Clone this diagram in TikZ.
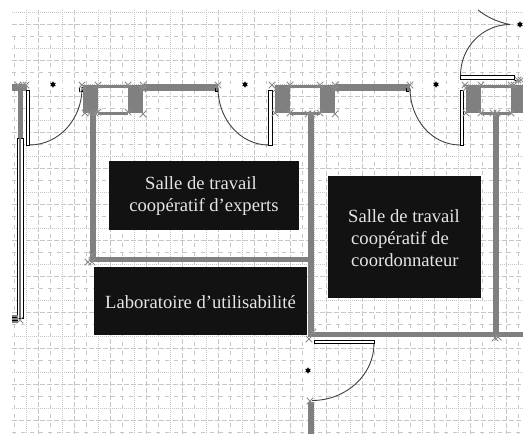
\documentclass[tikz,border=0pt]{standalone}
\usepackage{fontspec}
\setmainfont{Liberation Serif}
\usetikzlibrary{shapes.misc,shapes.geometric}

\tikzset{
  wall/.style={fill=black!50,draw=none},
  doorleaf/.style={draw=black,fill=white,line width=0.9pt},
  doorarc/.style={draw=black!75,line width=0.9pt},
  xmark/.style={cross out,draw=black!45,line width=1pt,minimum size=6.5pt,inner sep=0pt,outer sep=0pt},
  pivot/.style={star,star points=6,star point ratio=1.8,fill=black,minimum size=6.5pt,inner sep=0pt},
  room/.style={fill=black!93,draw=none},
  roomtext/.style={text=white!90!black,font=\fontsize{18.6}{22.2}\selectfont,inner sep=0pt}
}

\begin{document}
\begin{tikzpicture}[x=1pt,y=-1pt]
\useasboundingbox (0,0) rectangle (523,434);
\fill[white] (0,0) rectangle (523,434);

% Grid lines
\foreach \y [count=\i] in {12.5,24.5,...,433}{
  \pgfmathtruncatemacro{\k}{mod(\i,3)}
  \ifnum\k=1 \draw[black!22,line width=1pt,dash pattern=on 1pt off 1pt] (12,\y) -- (523,\y);\fi
  \ifnum\k=2 \draw[black!22,line width=1pt,dash pattern=on 5pt off 2pt] (12,\y) -- (523,\y);\fi
  \ifnum\k=0 \draw[black!22,line width=1pt,dash pattern=on 4pt off 5pt] (12,\y) -- (523,\y);\fi
}
\foreach \x [count=\i] in {14.5,26.5,...,523}{
  \pgfmathtruncatemacro{\k}{mod(\i,3)}
  \ifnum\k=1 \draw[black!22,line width=1pt,dash pattern=on 4pt off 5pt] (\x,36) -- (\x,434);\fi
  \ifnum\k=2 \draw[black!22,line width=1pt,dash pattern=on 1pt off 1pt] (\x,10) -- (\x,434);\fi
  \ifnum\k=0 \draw[black!22,line width=1pt,dash pattern=on 5pt off 2pt] (\x,10) -- (\x,434);\fi
}

% Top wall
\fill[wall] (12,84) rectangle (27,90.5);
\fill[wall] (17.5,90) rectangle (23,138);
\fill[wall] (143,84) rectangle (218,90.5);
\fill[wall] (335,84) rectangle (410,90.5);

% Pillars and thin walls
\foreach \x in {83,128,275,320,466,511}
  \fill[wall] (\x,85) rectangle ({min(\x+15,523)},113);
\foreach \x in {98,290,481}{
  \fill[wall] (\x,84.5) rectangle (\x+30,87.5);
  \fill[wall] (\x,111.5) rectangle (\x+30,114.5);
}

% Inner walls
\fill[wall] (89.5,113) rectangle (95.5,262);
\fill[wall] (89.5,256.5) rectangle (314,262);
\fill[wall] (308,113) rectangle (314,336.5);
\fill[wall] (308,331.5) rectangle (523,336.5);
\fill[wall] (493,113) rectangle (499,333);
\fill[wall] (307.5,402) rectangle (314,434);

% Door openings
\fill[white] (29,83.5) rectangle (80,87);
\fill[white] (221,83.5) rectangle (272,87);
\fill[white] (413,83.5) rectangle (463,87);
\fill[white] (305,342) rectangle (312,398);

% Window
\draw[black,fill=white,line width=0.9pt] (17.5,138) rectangle (23,318);
\draw[black!55,line width=1.6pt] (20.2,138) -- (20.2,318);
\fill[black!50] (12,315) rectangle (17.5,323);
\draw[black,line width=0.5pt] (12,317) -- (17.5,317) (12,320) -- (17.5,320);

% Doors
\draw[doorleaf] (26,90) rectangle (29.5,145);
\draw[doorarc] (29.5,145) .. controls (58.5,145) and (82,119.5) .. (82,88);
\draw[doorleaf] (268.5,90.5) rectangle (272,145);
\draw[doorarc] (268.5,145) .. controls (240.6,145) and (218,119.5) .. (218,88);
\draw[doorleaf] (460,90.5) rectangle (463.5,145);
\draw[doorarc] (460,145) .. controls (432,145) and (410,119.5) .. (410,88);
\draw[doorleaf] (460.5,75.5) rectangle (514,79.5);
\draw[doorarc] (460.5,75.5) .. controls (460.5,47) and (483,24.5) .. (510,24.5);
\draw[doorarc] (510,24.5) .. controls (497,22) and (487,17) .. (478,10);
\draw[black,line width=0.9pt] (514,79.5) -- (516,81) -- (520,81);
\draw[doorleaf] (314,340) rectangle (374,343.5);
\draw[doorarc] (374,343.5) .. controls (374,375) and (346,400.5) .. (312,400.5);
\draw[black,line width=0.9pt] (215,88) -- (215,91) -- (218,91);
\draw[black,line width=0.9pt] (79,88) -- (79,91) -- (82,91) -- (82,87);
\draw[black,line width=0.9pt] (406,88) -- (406,91) -- (409,91);

% Door pivots
\node[pivot] (pivotA) at (53,84.5) {};
\node[pivot] (pivotB) at (245,84.5) {};
\node[pivot] (pivotC) at (436,84.5) {};
\node[pivot] (pivotD) at (520,24.5) {};
\node[pivot] (pivotE) at (308,370.5) {};

% Cross marks
\foreach \x/\y [count=\i] in {18/85,23/85,26/85,82/85,83/89,98/85,128/85,143/85,143/89,
  85/113,90/113,95/113,98/112,128/112,143/114,
  218/85,272/85,276/89,290/85,320/85,335/85,335/89,
  275/113,290/113,308/114,312/114,320/113,335/114,
  410/85,465/85,466/88,481/85,511/85,514/85,518/80,521/80,
  466/113,481/113,493/113,497/113,511/113,
  309/339,313/332,310/401,495/338,498/337,20/320,92/255,88/262,92/262}
  \node[xmark] (mark\i) at (\x,\y) {};

% Rooms
\fill[room] (109,161) rectangle (299,230);
\node[roomtext,align=center] (expertsText) at (204,196) {\hspace*{-6pt}Salle de travail\\coopératif d’experts};
\fill[room] (328,176) rectangle (481,298);
\node[roomtext,align=left,anchor=west] (coordText) at (348,238) {Salle de travail\\\hspace*{3pt}coopératif de\\\hspace*{3pt}coordonnateur};
\fill[room] (94,267) rectangle (307,335);
\node[roomtext] (laboText) at (200.5,302) {Laboratoire d’utilisabilité};
\end{tikzpicture}
\end{document}
